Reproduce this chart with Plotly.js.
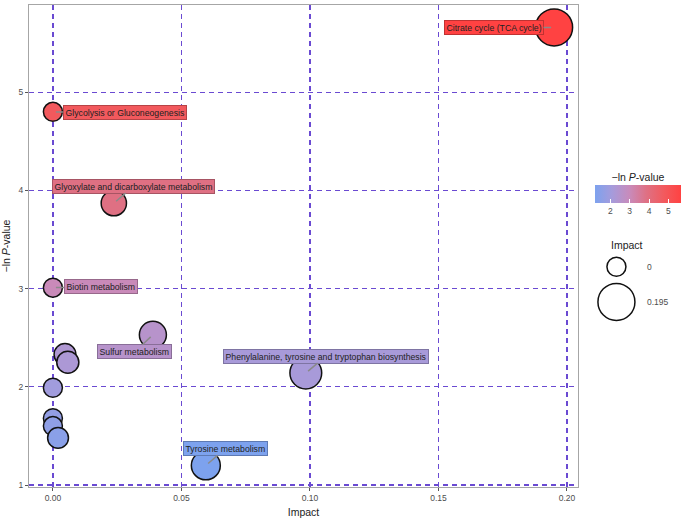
<!DOCTYPE html>
<html>
<head>
<meta charset="utf-8">
<script src="https://cdn.plot.ly/plotly-3.0.1.min.js"></script>
<style>html,body{margin:0;padding:0;background:#fff;}#chart{width:693px;height:519px;}</style>
</head>
<body>
<div id="chart"></div>
<script>
// ---- data ----
const pathways = ["Citrate cycle (TCA cycle)", "Glycolysis or Gluconeogenesis",
  "Glyoxylate and dicarboxylate metabolism", "Biotin metabolism", "Sulfur metabolism",
  "", "", "", "", "", "", "Tyrosine metabolism",
  "Phenylalanine, tyrosine and tryptophan biosynthesis"];
const impact = [0.195, 0.0, 0.0237, 0.0, 0.0389, 0.0047, 0.0058, 0.0, 0.0, 0.0, 0.0020, 0.0595, 0.0984];
const negLnP = [5.66, 4.80, 3.87, 3.01, 2.53, 2.33, 2.25, 1.99, 1.68, 1.60, 1.48, 1.20, 2.14];
const xTicks = [0, 0.05, 0.10, 0.15, 0.20];
const yTicks = [1, 2, 3, 4, 5];
const colorTicks = [2, 3, 4, 5];
const sizeLegendValues = [0, 0.195];
const sizeLegendLabels = ["0", "0.195"];

// ---- styling helpers ----
const FONT = "Liberation Sans, Arial, sans-serif";
const dMin = 19, dMax = 37;
const impMax = Math.max(...impact);
function diam(v){ return dMin + (dMax - dMin) * Math.sqrt(v / impMax); }

const cscale = [
  [0.0, "#7da2ee"], [0.2, "#a69bdb"], [0.4, "#c88bbb"],
  [0.6, "#df7083"], [0.8, "#f25a5e"], [1.0, "#ff4242"]
];
function hex2rgb(h){ return [parseInt(h.slice(1,3),16), parseInt(h.slice(3,5),16), parseInt(h.slice(5,7),16)]; }
const cmin = Math.min(...negLnP), cmax = Math.max(...negLnP);
function colorAt(v, dark){
  let t = (v - cmin) / (cmax - cmin); t = Math.max(0, Math.min(1, t));
  for (let i = 0; i < cscale.length - 1; i++) {
    const [t0, c0] = cscale[i], [t1, c1] = cscale[i+1];
    if (t >= t0 && t <= t1) {
      const f = (t - t0) / (t1 - t0);
      const a = hex2rgb(c0), b = hex2rgb(c1);
      const k = dark ? 0.75 : 1;
      const r = a.map((x, j) => Math.round((x + (b[j] - x) * f) * k));
      return `rgb(${r[0]},${r[1]},${r[2]})`;
    }
  }
  return cscale[cscale.length-1][1];
}

// label offsets (pixels from the point), layout only
const labelOffsets = {
  "Citrate cycle (TCA cycle)": [-60, 0],
  "Glycolysis or Gluconeogenesis": [72, 1],
  "Glyoxylate and dicarboxylate metabolism": [20, -17],
  "Biotin metabolism": [48, -1],
  "Sulfur metabolism": [-18, 17],
  "Phenylalanine, tyrosine and tryptophan biosynthesis": [20, -17],
  "Tyrosine metabolism": [20, -17]
};

const trace = {
  type: "scatter", mode: "markers",
  x: impact, y: negLnP,
  marker: {
    size: impact.map(diam), sizemode: "diameter",
    color: negLnP, colorscale: cscale, cmin: cmin, cmax: cmax,
    line: {color: "#111", width: 1.5}, opacity: 1,
    showscale: true,
    colorbar: {
      orientation: "h", x: 1.031, xanchor: "left", y: 0.652, yanchor: "top",
      xpad: 0, ypad: 0,
      lenmode: "pixels", len: 86, thickness: 18, thicknessmode: "pixels",
      outlinewidth: 0,
      title: {text: "\u2212ln <i>P</i>-value", side: "top", font: {size: 10.5, color: "#222", family: FONT}},
      tickvals: colorTicks, ticks: "inside", tickcolor: "#ffffff", ticklen: 4,
      tickfont: {size: 8.5, color: "#4d4d4d", family: FONT}
    }
  },
  hoverinfo: "skip", showlegend: false
};

const annotations = [];
pathways.forEach((p, i) => {
  if (!p) return;
  const off = labelOffsets[p] || [20, -17];
  annotations.push({
    x: impact[i], y: negLnP[i], xref: "x", yref: "y",
    text: p, showarrow: true, arrowhead: 0, arrowwidth: 1.5, arrowcolor: "#8a8a8a",
    ax: off[0], ay: off[1], standoff: 3,
    bgcolor: colorAt(negLnP[i], false), bordercolor: colorAt(negLnP[i], true),
    borderwidth: 1, borderpad: 1.5,
    font: {size: 8.7, color: "#222", family: FONT}
  });
});

// size legend
const shapes = [];
const legX = 1.07, legYs = [0.457, 0.384];
sizeLegendValues.forEach((v, i) => {
  const r = diam(v) / 2;
  shapes.push({type: "circle", xref: "paper", yref: "paper", xsizemode: "pixel", ysizemode: "pixel",
    xanchor: legX, yanchor: legYs[i], x0: -r, x1: r, y0: -r, y1: r,
    line: {color: "#111", width: 1.5}, fillcolor: "rgba(255,255,255,0)"});
  annotations.push({xref: "paper", yref: "paper", x: 1.1225, y: legYs[i], xanchor: "left", yanchor: "middle",
    text: sizeLegendLabels[i], showarrow: false,
    font: {size: 8.5, color: "#4d4d4d", family: FONT}});
});
annotations.push({xref: "paper", yref: "paper", x: 1.089, y: 0.503, xanchor: "center", yanchor: "middle",
  text: "Impact", showarrow: false, font: {size: 10.5, color: "#222", family: FONT}});

const axisCommon = {
  showline: true, linecolor: "#a6a6a6", linewidth: 1, mirror: true,
  showgrid: true, gridcolor: "#6a4ad2", gridwidth: 1.3, griddash: "5px,4px",
  zeroline: false, ticks: "outside", ticklen: 3, tickcolor: "#555",
  tickfont: {size: 8.5, color: "#4d4d4d", family: FONT}
};

const layout = {
  width: 693, height: 519,
  margin: {l: 29, r: 115, t: 5, b: 32},
  paper_bgcolor: "#fff", plot_bgcolor: "#fff",
  xaxis: Object.assign({}, axisCommon, {
    range: [-0.0093, 0.2043], tickvals: xTicks, tickformat: ".2f",
    title: {text: "Impact", standoff: 6, font: {size: 10.5, color: "#222", family: FONT}}
  }),
  yaxis: Object.assign({}, axisCommon, {
    range: [0.98, 5.888], tickvals: yTicks,
    title: {text: "\u2212ln <i>P</i>-value", standoff: 8, font: {size: 10.5, color: "#222", family: FONT}}
  }),
  annotations: annotations, shapes: shapes,
  showlegend: false
};

Plotly.newPlot("chart", [trace], layout, {displayModeBar: false, staticPlot: true});
</script>
</body>
</html>
